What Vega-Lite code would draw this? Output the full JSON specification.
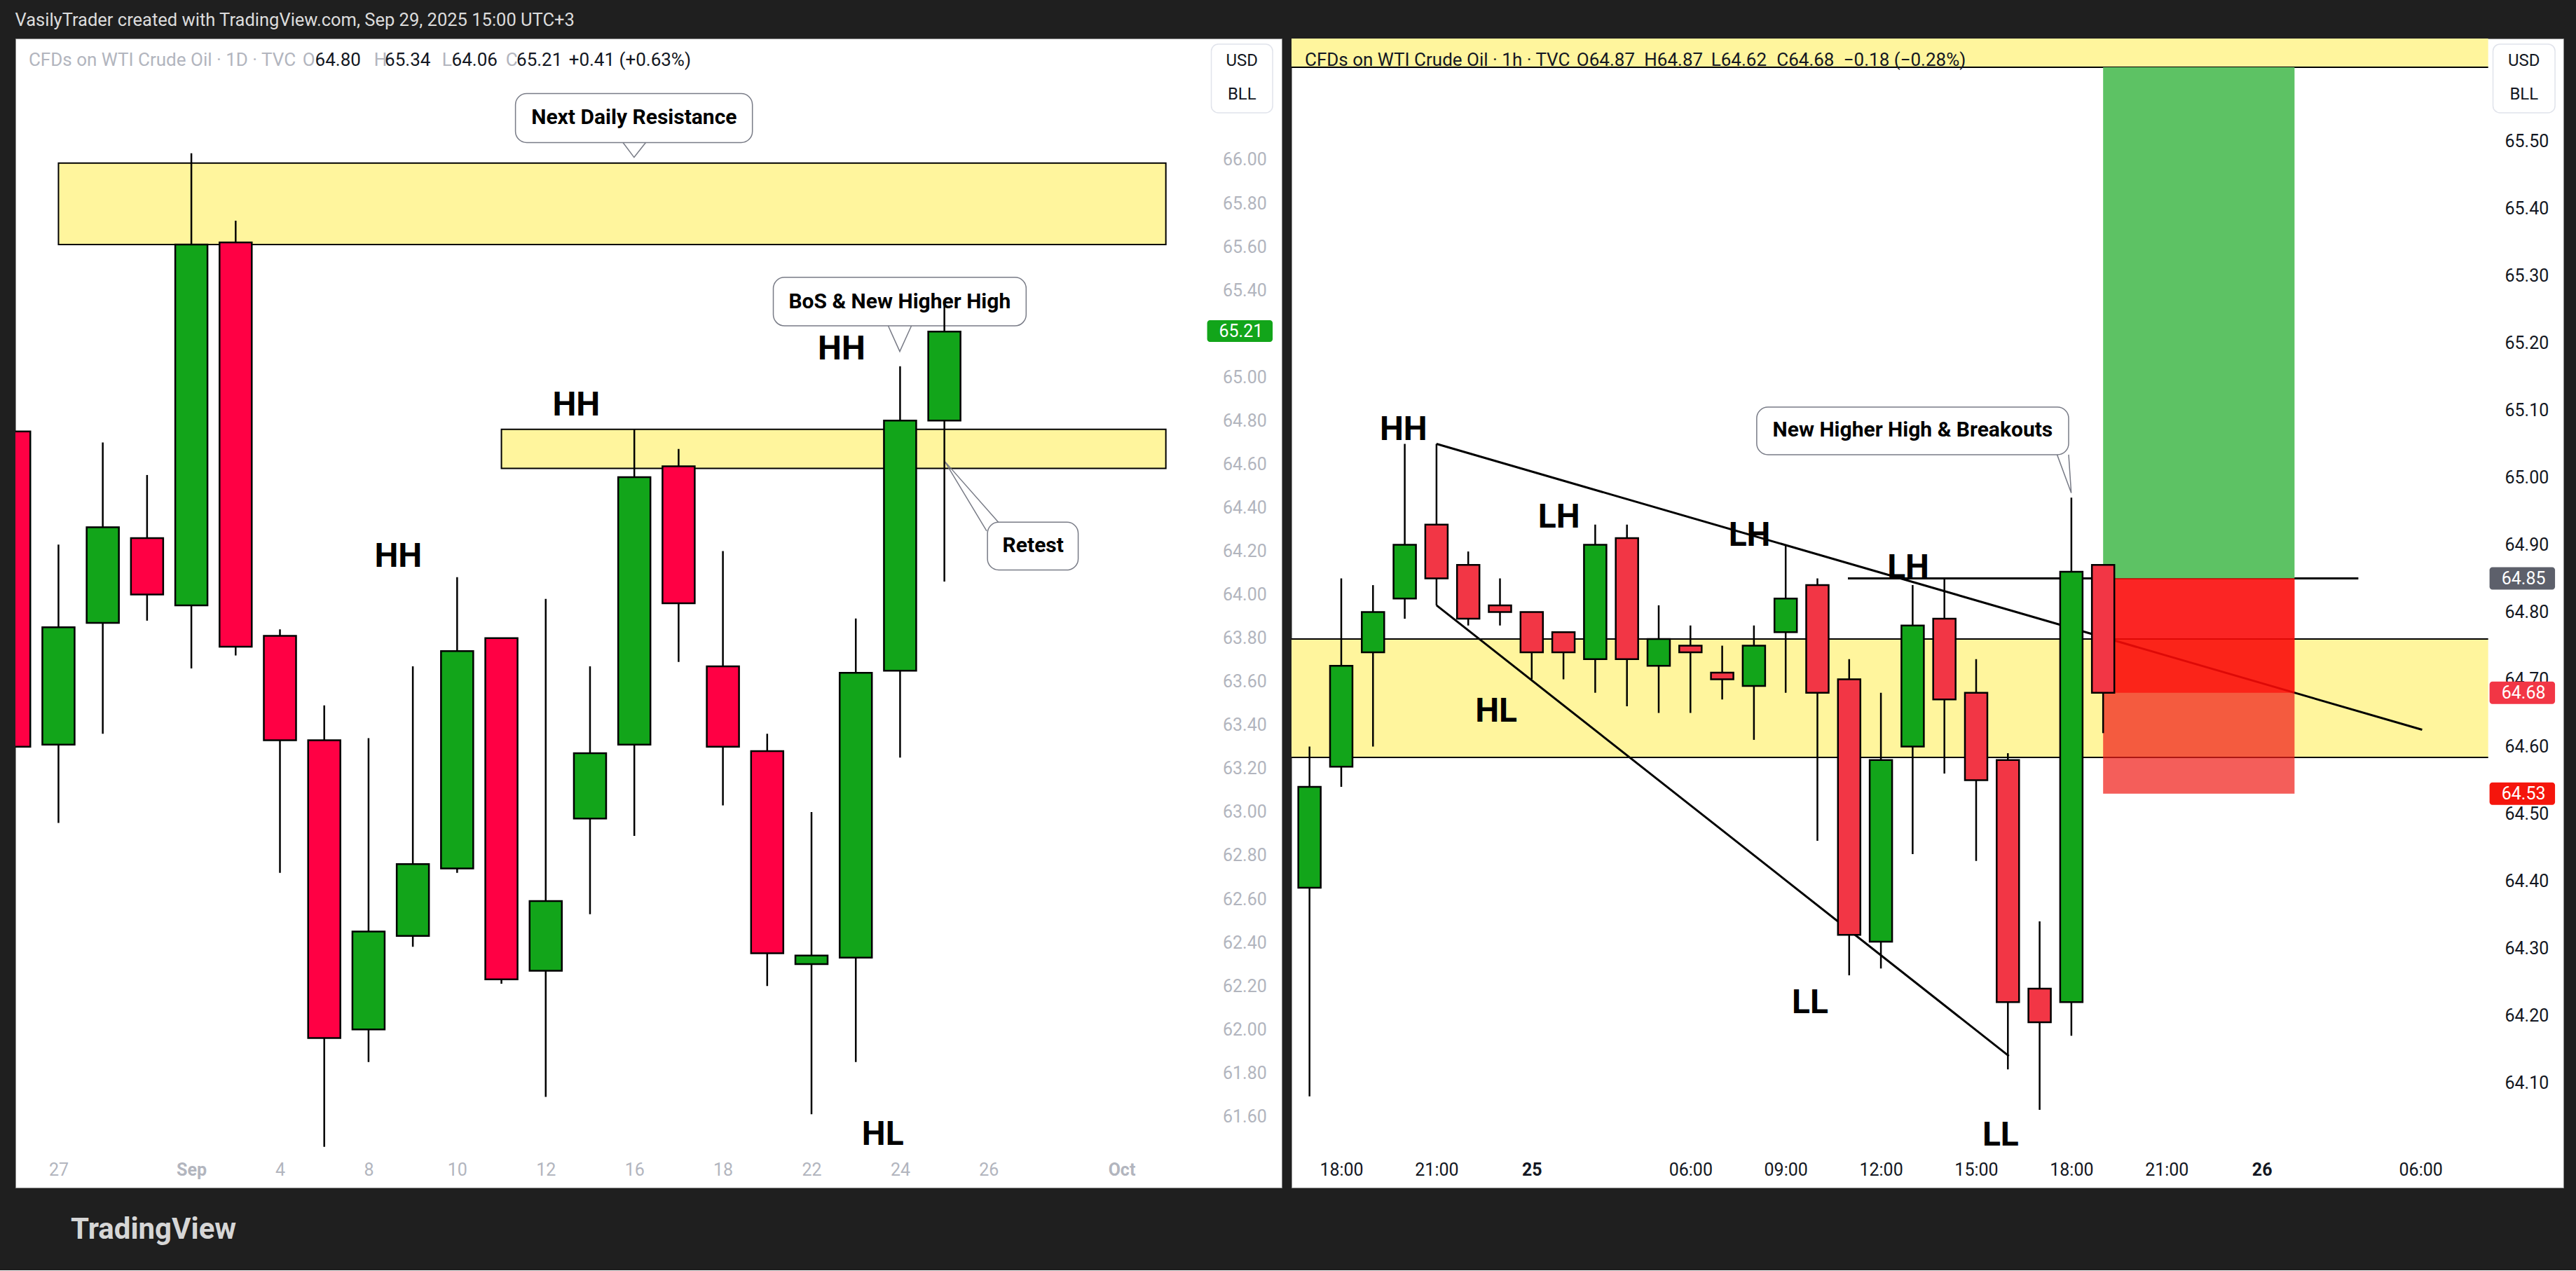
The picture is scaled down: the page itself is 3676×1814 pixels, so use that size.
{
  "$schema": "https://vega.github.io/schema/vega-lite/v6.json",
  "background": "#1f1f1f",
  "padding": {"left": 21, "right": 21, "top": 16, "bottom": 36},
  "spacing": 12,
  "title": {"text": "VasilyTrader created with TradingView.com, Sep 29, 2025 15:00 UTC+3", "anchor": "start", "color": "#dcdcdc", "fontSize": 25.5, "fontWeight": "normal", "font": "Roboto", "offset": 12.5},
  "config": {"font": "Roboto", "view": {"fill": "white", "stroke": "#8a8a8a", "strokeWidth": 1}},
  "datasets": {
    "candlesL": [
      {"x": 0, "o": 64.75, "h": 64.75, "l": 63.30, "c": 63.30},
      {"x": 1, "o": 63.31, "h": 64.23, "l": 62.95, "c": 63.85},
      {"x": 2, "o": 63.87, "h": 64.70, "l": 63.36, "c": 64.31},
      {"x": 3, "o": 64.26, "h": 64.55, "l": 63.88, "c": 64.00},
      {"x": 4, "o": 63.95, "h": 66.03, "l": 63.66, "c": 65.61},
      {"x": 5, "o": 65.62, "h": 65.72, "l": 63.72, "c": 63.76},
      {"x": 6, "o": 63.81, "h": 63.84, "l": 62.72, "c": 63.33},
      {"x": 7, "o": 63.33, "h": 63.49, "l": 61.46, "c": 61.96},
      {"x": 8, "o": 62.00, "h": 63.34, "l": 61.85, "c": 62.45},
      {"x": 9, "o": 62.43, "h": 63.67, "l": 62.38, "c": 62.76},
      {"x": 10, "o": 62.74, "h": 64.08, "l": 62.72, "c": 63.74},
      {"x": 11, "o": 63.80, "h": 63.80, "l": 62.21, "c": 62.23},
      {"x": 12, "o": 62.27, "h": 63.98, "l": 61.69, "c": 62.59},
      {"x": 13, "o": 62.97, "h": 63.67, "l": 62.53, "c": 63.27},
      {"x": 14, "o": 63.31, "h": 64.76, "l": 62.89, "c": 64.54},
      {"x": 15, "o": 64.59, "h": 64.67, "l": 63.69, "c": 63.96},
      {"x": 16, "o": 63.67, "h": 64.20, "l": 63.03, "c": 63.30},
      {"x": 17, "o": 63.28, "h": 63.36, "l": 62.20, "c": 62.35},
      {"x": 18, "o": 62.30, "h": 63.00, "l": 61.61, "c": 62.34},
      {"x": 19, "o": 62.33, "h": 63.89, "l": 61.85, "c": 63.64},
      {"x": 20, "o": 63.65, "h": 65.05, "l": 63.25, "c": 64.80},
      {"x": 21, "o": 64.80, "h": 65.34, "l": 64.06, "c": 65.21}
    ],
    "candlesR": [
      {"x": 0, "o": 64.39, "h": 64.60, "l": 64.08, "c": 64.54},
      {"x": 1, "o": 64.57, "h": 64.85, "l": 64.54, "c": 64.72},
      {"x": 2, "o": 64.74, "h": 64.84, "l": 64.60, "c": 64.80},
      {"x": 3, "o": 64.82, "h": 65.05, "l": 64.79, "c": 64.90},
      {"x": 4, "o": 64.93, "h": 65.05, "l": 64.81, "c": 64.85},
      {"x": 5, "o": 64.87, "h": 64.89, "l": 64.78, "c": 64.79},
      {"x": 6, "o": 64.81, "h": 64.85, "l": 64.78, "c": 64.80},
      {"x": 7, "o": 64.80, "h": 64.80, "l": 64.70, "c": 64.74},
      {"x": 8, "o": 64.77, "h": 64.77, "l": 64.70, "c": 64.74},
      {"x": 9, "o": 64.73, "h": 64.93, "l": 64.68, "c": 64.90},
      {"x": 10, "o": 64.91, "h": 64.93, "l": 64.66, "c": 64.73},
      {"x": 11, "o": 64.72, "h": 64.81, "l": 64.65, "c": 64.76},
      {"x": 12, "o": 64.75, "h": 64.78, "l": 64.65, "c": 64.74},
      {"x": 13, "o": 64.71, "h": 64.75, "l": 64.67, "c": 64.70},
      {"x": 14, "o": 64.69, "h": 64.78, "l": 64.61, "c": 64.75},
      {"x": 15, "o": 64.77, "h": 64.90, "l": 64.68, "c": 64.82},
      {"x": 16, "o": 64.84, "h": 64.85, "l": 64.46, "c": 64.68},
      {"x": 17, "o": 64.70, "h": 64.73, "l": 64.26, "c": 64.32},
      {"x": 18, "o": 64.31, "h": 64.68, "l": 64.27, "c": 64.58},
      {"x": 19, "o": 64.60, "h": 64.84, "l": 64.44, "c": 64.78},
      {"x": 20, "o": 64.79, "h": 64.85, "l": 64.56, "c": 64.67},
      {"x": 21, "o": 64.68, "h": 64.73, "l": 64.43, "c": 64.55},
      {"x": 22, "o": 64.58, "h": 64.59, "l": 64.12, "c": 64.22},
      {"x": 23, "o": 64.24, "h": 64.34, "l": 64.06, "c": 64.19},
      {"x": 24, "o": 64.22, "h": 64.97, "l": 64.17, "c": 64.86},
      {"x": 25, "o": 64.87, "h": 64.87, "l": 64.62, "c": 64.68}
    ]
  },
  "hconcat": [
    {
      "width": 1807,
      "height": 1640,
      "title": {"text": "TradingView", "orient": "bottom", "anchor": "start", "fontSize": 42, "fontWeight": "bold", "color": "#d6d6d6", "offset": 40, "dx": 79},
      "layer": [
        {
          "data": {"values": [{"x1": 1, "x2": 26, "lo": 65.61, "hi": 65.985}, {"x1": 11, "x2": 26, "lo": 64.58, "hi": 64.76}]},
          "mark": {"type": "rect", "fill": "#fff59d", "stroke": "#000000", "strokeWidth": 2},
          "encoding": {
            "x": {"field": "x1", "type": "quantitative", "title": null, "scale": {"domain": [0.107, 28.536], "zero": false, "nice": false},
              "axis": {"orient": "bottom", "offset": -26, "values": [1, 4, 6, 8, 10, 12, 14, 16, 18, 20, 22, 25],
                "labelExpr": "['','27','','','Sep','','4','','8','','10','','12','','16','','18','','22','','24','','26','','','Oct'][datum.value]",
                "title": null, "domain": false, "ticks": false, "tickSize": 0, "grid": false, "labelPadding": 0, "labelBaseline": "middle", "labelAlign": "center",
                "labelFontSize": 25, "labelColor": "#b2b5be", "labelOverlap": false, "labelBound": false, "labelFlush": false,
                "labelFontWeight": {"condition": {"test": "datum.value == 4 || datum.value == 25", "value": "bold"}, "value": "normal"}}},
            "x2": {"field": "x2"},
            "y": {"field": "lo", "type": "quantitative", "title": null, "scale": {"domain": [61.2723, 66.5575], "zero": false, "nice": false},
              "axis": {"orient": "right", "offset": -84.5, "values": [61.6, 61.8, 62, 62.2, 62.4, 62.6, 62.8, 63, 63.2, 63.4, 63.6, 63.8, 64, 64.2, 64.4, 64.6, 64.8, 65, 65.2, 65.4, 65.6, 65.8, 66],
                "format": ".2f", "title": null, "domain": false, "ticks": false, "tickSize": 0, "grid": false, "labelPadding": 0, "labelAlign": "left", "labelBaseline": "middle",
                "labelFontSize": 25, "labelColor": "#b2b5be", "labelOverlap": false, "labelBound": false, "labelFlush": false}},
            "y2": {"field": "hi"}
          }
        },
        {
          "data": {"values": [
            {"x1": 11.317, "x2": 16.666, "lo": 66.079, "hi": 66.3045},
            {"x1": 17.138, "x2": 22.846, "lo": 65.236, "hi": 65.459},
            {"x1": 21.973, "x2": 24.021, "lo": 64.113, "hi": 64.333}
          ]},
          "mark": {"type": "rect", "fill": "white", "stroke": "#787b86", "strokeWidth": 1.5, "cornerRadius": 16},
          "encoding": {
            "x": {"field": "x1", "type": "quantitative", "title": null},
            "x2": {"field": "x2"},
            "y": {"field": "lo", "type": "quantitative", "title": null},
            "y2": {"field": "hi"}
          }
        },
        {
          "data": {"values": [
            {"g": "a", "k": 0, "x": 13.745, "y": 66.079}, {"g": "a", "k": 1, "x": 13.995, "y": 66.011}, {"g": "a", "k": 2, "x": 14.257, "y": 66.079},
            {"g": "b", "k": 0, "x": 19.732, "y": 65.236}, {"g": "b", "k": 1, "x": 19.993, "y": 65.118}, {"g": "b", "k": 2, "x": 20.256, "y": 65.236},
            {"g": "c", "k": 0, "x": 22.218, "y": 64.333}, {"g": "c", "k": 1, "x": 21.007, "y": 64.613}, {"g": "c", "k": 2, "x": 21.955, "y": 64.292}
          ]},
          "mark": {"type": "line", "color": "#787b86", "strokeWidth": 1.5},
          "encoding": {
            "x": {"field": "x", "type": "quantitative", "title": null},
            "y": {"field": "y", "type": "quantitative", "title": null},
            "detail": {"field": "g"},
            "order": {"field": "k", "type": "quantitative"}
          }
        },
        {
          "data": {"values": [
            {"x": 13.995, "y": 66.193, "t": "Next Daily Resistance"},
            {"x": 19.99, "y": 65.347, "t": "BoS & New Higher High"},
            {"x": 23.003, "y": 64.225, "t": "Retest"}
          ]},
          "mark": {"type": "text", "fontSize": 30, "fontWeight": "bold", "color": "#000000", "align": "center", "baseline": "middle"},
          "encoding": {
            "x": {"field": "x", "type": "quantitative", "title": null},
            "y": {"field": "y", "type": "quantitative", "title": null},
            "text": {"field": "t"}
          }
        },
        {
          "data": {"values": [
            {"x": 8.67, "y": 64.173, "t": "HH"},
            {"x": 12.69, "y": 64.869, "t": "HH"},
            {"x": 18.68, "y": 65.127, "t": "HH"},
            {"x": 19.61, "y": 61.514, "t": "HL"}
          ]},
          "mark": {"type": "text", "fontSize": 48, "fontWeight": "bold", "color": "#000000", "align": "center", "baseline": "middle"},
          "encoding": {
            "x": {"field": "x", "type": "quantitative", "title": null},
            "y": {"field": "y", "type": "quantitative", "title": null},
            "text": {"field": "t"}
          }
        },
        {
          "data": {"name": "candlesL"},
          "mark": {"type": "rule", "color": "#000000", "strokeWidth": 2.5, "clip": true},
          "encoding": {
            "x": {"field": "x", "type": "quantitative", "title": null},
            "y": {"field": "l", "type": "quantitative", "title": null},
            "y2": {"field": "h"}
          }
        },
        {
          "data": {"name": "candlesL"},
          "mark": {"type": "bar", "size": 46, "stroke": "#000000", "strokeWidth": 2.5, "clip": true},
          "encoding": {
            "x": {"field": "x", "type": "quantitative", "title": null},
            "y": {"field": "o", "type": "quantitative", "title": null},
            "y2": {"field": "c"},
            "color": {"condition": {"test": "datum.c >= datum.o", "value": "#12a51a"}, "value": "#ff0044"}
          }
        },
        {
          "data": {"values": [
            {"x": 0.327, "y": 66.4576, "t": "CFDs on WTI Crude Oil · 1D · TVC", "k": "lab"},
            {"x": 6.51, "y": 66.4576, "t": "O", "k": "lab"},
            {"x": 6.793, "y": 66.4576, "t": "64.80", "k": "val"},
            {"x": 8.123, "y": 66.4576, "t": "H", "k": "lab"},
            {"x": 8.367, "y": 66.4576, "t": "65.34", "k": "val"},
            {"x": 9.657, "y": 66.4576, "t": "L", "k": "lab"},
            {"x": 9.877, "y": 66.4576, "t": "64.06", "k": "val"},
            {"x": 11.097, "y": 66.4576, "t": "C", "k": "lab"},
            {"x": 11.34, "y": 66.4576, "t": "65.21", "k": "val"},
            {"x": 12.52, "y": 66.4576, "t": "+0.41 (+0.63%)", "k": "val"}
          ]},
          "mark": {"type": "text", "fontSize": 26, "align": "left", "baseline": "middle"},
          "encoding": {
            "x": {"field": "x", "type": "quantitative", "title": null},
            "y": {"field": "y", "type": "quantitative", "title": null},
            "text": {"field": "t"},
            "color": {"condition": {"test": "datum.k == 'lab'", "value": "#b2b5be"}, "value": "#131722"}
          }
        },
        {
          "data": {"values": [{"x1": 27.026, "x2": 28.411, "lo": 66.2159, "hi": 66.5317}]},
          "mark": {"type": "rect", "fill": "white", "stroke": "#e0e3eb", "strokeWidth": 1.5, "cornerRadius": 10},
          "encoding": {
            "x": {"field": "x1", "type": "quantitative", "title": null},
            "x2": {"field": "x2"},
            "y": {"field": "lo", "type": "quantitative", "title": null},
            "y2": {"field": "hi"}
          }
        },
        {
          "data": {"values": [{"x": 27.718, "y": 66.4544, "t": "USD"}, {"x": 27.718, "y": 66.2997, "t": "BLL"}]},
          "mark": {"type": "text", "fontSize": 24, "color": "#131722", "align": "center", "baseline": "middle"},
          "encoding": {
            "x": {"field": "x", "type": "quantitative", "title": null},
            "y": {"field": "y", "type": "quantitative", "title": null},
            "text": {"field": "t"}
          }
        },
        {
          "data": {"values": [{"x1": 26.932, "x2": 28.411, "lo": 65.162, "hi": 65.262}]},
          "mark": {"type": "rect", "fill": "#12a51a", "cornerRadius": 4},
          "encoding": {
            "x": {"field": "x1", "type": "quantitative", "title": null},
            "x2": {"field": "x2"},
            "y": {"field": "lo", "type": "quantitative", "title": null},
            "y2": {"field": "hi"}
          }
        },
        {
          "data": {"values": [{"x": 27.199, "y": 65.21, "t": "65.21"}]},
          "mark": {"type": "text", "fontSize": 25, "color": "white", "align": "left", "baseline": "middle"},
          "encoding": {
            "x": {"field": "x", "type": "quantitative", "title": null},
            "y": {"field": "y", "type": "quantitative", "title": null},
            "text": {"field": "t"}
          }
        }
      ]
    },
    {
      "width": 1815,
      "height": 1640,
      "layer": [
        {
          "data": {"values": [{"x1": -1, "x2": 37.13, "lo": 64.584, "hi": 64.76}, {"x1": -1, "x2": 37.13, "lo": 65.61, "hi": 66.0}]},
          "mark": {"type": "rect", "fill": "#fff59d", "clip": true},
          "encoding": {
            "x": {"field": "x1", "type": "quantitative", "title": null, "scale": {"domain": [-0.457, 39.389], "zero": false, "nice": false},
              "axis": {"orient": "bottom", "offset": -26, "values": [1, 4, 7, 12, 15, 18, 21, 24, 27, 30, 35],
                "labelExpr": "['','18:00','','','21:00','','','25','','','','','06:00','','','09:00','','','12:00','','','15:00','','','18:00','','','21:00','','','26','','','','','06:00'][datum.value]",
                "title": null, "domain": false, "ticks": false, "tickSize": 0, "grid": false, "labelPadding": 0, "labelBaseline": "middle", "labelAlign": "center",
                "labelFontSize": 25, "labelColor": "#131722", "labelOverlap": false, "labelBound": false, "labelFlush": false,
                "labelFontWeight": {"condition": {"test": "datum.value == 7 || datum.value == 30", "value": "bold"}, "value": "normal"}}},
            "x2": {"field": "x2"},
            "y": {"field": "lo", "type": "quantitative", "title": null, "scale": {"domain": [63.9443, 65.6526], "zero": false, "nice": false},
              "axis": {"orient": "right", "offset": -84, "values": [64.1, 64.2, 64.3, 64.4, 64.5, 64.6, 64.7, 64.8, 64.9, 65.0, 65.1, 65.2, 65.3, 65.4, 65.5],
                "format": ".2f", "title": null, "domain": false, "ticks": false, "tickSize": 0, "grid": false, "labelPadding": 0, "labelAlign": "left", "labelBaseline": "middle",
                "labelFontSize": 25, "labelColor": "#131722", "labelOverlap": false, "labelBound": false, "labelFlush": false}},
            "y2": {"field": "hi"}
          }
        },
        {
          "data": {"values": [{"x1": -1, "x2": 37.13, "y": 64.584}, {"x1": -1, "x2": 37.13, "y": 64.76}, {"x1": -1, "x2": 37.13, "y": 65.61}]},
          "mark": {"type": "rule", "color": "#000000", "strokeWidth": 2, "clip": true},
          "encoding": {
            "x": {"field": "x1", "type": "quantitative", "title": null},
            "x2": {"field": "x2"},
            "y": {"field": "y", "type": "quantitative", "title": null}
          }
        },
        {
          "data": {"values": [
            {"g": "u", "k": 0, "x": 4.0, "y": 65.05}, {"g": "u", "k": 1, "x": 35.05, "y": 64.625},
            {"g": "d", "k": 0, "x": 4.0, "y": 64.81}, {"g": "d", "k": 1, "x": 22.03, "y": 64.14},
            {"g": "h", "k": 0, "x": 16.96, "y": 64.85}, {"g": "h", "k": 1, "x": 33.04, "y": 64.85}
          ]},
          "mark": {"type": "line", "color": "#000000", "strokeWidth": 3},
          "encoding": {
            "x": {"field": "x", "type": "quantitative", "title": null},
            "y": {"field": "y", "type": "quantitative", "title": null},
            "detail": {"field": "g"},
            "order": {"field": "k", "type": "quantitative"}
          }
        },
        {
          "data": {"values": [
            {"x1": 25, "x2": 31.03, "lo": 64.85, "hi": 65.61, "k": "target"},
            {"x1": 25, "x2": 31.03, "lo": 64.53, "hi": 64.85, "k": "stop"},
            {"x1": 25, "x2": 31.03, "lo": 64.68, "hi": 64.85, "k": "loss"}
          ]},
          "mark": {"type": "rect"},
          "encoding": {
            "x": {"field": "x1", "type": "quantitative", "title": null},
            "x2": {"field": "x2"},
            "y": {"field": "lo", "type": "quantitative", "title": null},
            "y2": {"field": "hi"},
            "color": {"condition": [{"test": "datum.k == 'target'", "value": "#5dc264"}, {"test": "datum.k == 'stop'", "value": "#f0201a"}], "value": "#ff0000"},
            "opacity": {"condition": [{"test": "datum.k == 'target'", "value": 1}, {"test": "datum.k == 'stop'", "value": 0.72}], "value": 0.6}
          }
        },
        {
          "data": {"name": "candlesR"},
          "mark": {"type": "rule", "color": "#000000", "strokeWidth": 2.5, "clip": true},
          "encoding": {
            "x": {"field": "x", "type": "quantitative", "title": null},
            "y": {"field": "l", "type": "quantitative", "title": null},
            "y2": {"field": "h"}
          }
        },
        {
          "data": {"name": "candlesR"},
          "mark": {"type": "bar", "size": 32, "stroke": "#000000", "strokeWidth": 2.5, "clip": true},
          "encoding": {
            "x": {"field": "x", "type": "quantitative", "title": null},
            "y": {"field": "o", "type": "quantitative", "title": null},
            "y2": {"field": "c"},
            "color": {"condition": {"test": "datum.c >= datum.o", "value": "#12a51a"}, "value": "#f23645"}
          }
        },
        {
          "data": {"values": [{"x1": 14.088, "x2": 23.914, "lo": 65.0339, "hi": 65.1047}]},
          "mark": {"type": "rect", "fill": "white", "stroke": "#787b86", "strokeWidth": 1.5, "cornerRadius": 16},
          "encoding": {
            "x": {"field": "x1", "type": "quantitative", "title": null},
            "x2": {"field": "x2"},
            "y": {"field": "lo", "type": "quantitative", "title": null},
            "y2": {"field": "hi"}
          }
        },
        {
          "data": {"values": [
            {"g": "a", "k": 0, "x": 23.55, "y": 65.034}, {"g": "a", "k": 1, "x": 23.996, "y": 64.977}, {"g": "a", "k": 2, "x": 23.914, "y": 65.034}
          ]},
          "mark": {"type": "line", "color": "#787b86", "strokeWidth": 1.5},
          "encoding": {
            "x": {"field": "x", "type": "quantitative", "title": null},
            "y": {"field": "y", "type": "quantitative", "title": null},
            "detail": {"field": "g"},
            "order": {"field": "k", "type": "quantitative"}
          }
        },
        {
          "data": {"values": [{"x": 19.0, "y": 65.07, "t": "New Higher High & Breakouts"}]},
          "mark": {"type": "text", "fontSize": 30, "fontWeight": "bold", "color": "#000000", "align": "center", "baseline": "middle"},
          "encoding": {
            "x": {"field": "x", "type": "quantitative", "title": null},
            "y": {"field": "y", "type": "quantitative", "title": null},
            "text": {"field": "t"}
          }
        },
        {
          "data": {"values": [
            {"x": 2.96, "y": 65.07, "t": "HH"},
            {"x": 7.86, "y": 64.94, "t": "LH"},
            {"x": 5.88, "y": 64.652, "t": "HL"},
            {"x": 13.86, "y": 64.913, "t": "LH"},
            {"x": 18.86, "y": 64.865, "t": "LH"},
            {"x": 15.77, "y": 64.218, "t": "LL"},
            {"x": 21.77, "y": 64.021, "t": "LL"}
          ]},
          "mark": {"type": "text", "fontSize": 48, "fontWeight": "bold", "color": "#000000", "align": "center", "baseline": "middle"},
          "encoding": {
            "x": {"field": "x", "type": "quantitative", "title": null},
            "y": {"field": "y", "type": "quantitative", "title": null},
            "text": {"field": "t"}
          }
        },
        {
          "data": {"values": [
            {"x": -0.149, "y": 65.62, "t": "CFDs on WTI Crude Oil · 1h · TVC"},
            {"x": 8.413, "y": 65.62, "t": "O64.87"},
            {"x": 10.543, "y": 65.62, "t": "H64.87"},
            {"x": 12.65, "y": 65.62, "t": "L64.62"},
            {"x": 14.714, "y": 65.62, "t": "C64.68"},
            {"x": 16.822, "y": 65.62, "t": "−0.18 (−0.28%)"}
          ]},
          "mark": {"type": "text", "fontSize": 26, "color": "#131722", "align": "left", "baseline": "middle"},
          "encoding": {
            "x": {"field": "x", "type": "quantitative", "title": null},
            "y": {"field": "y", "type": "quantitative", "title": null},
            "text": {"field": "t"}
          }
        },
        {
          "data": {"values": [{"x1": 37.282, "x2": 39.236, "lo": 65.5422, "hi": 65.6443}]},
          "mark": {"type": "rect", "fill": "white", "stroke": "#e0e3eb", "strokeWidth": 1.5, "cornerRadius": 10},
          "encoding": {
            "x": {"field": "x1", "type": "quantitative", "title": null},
            "x2": {"field": "x2"},
            "y": {"field": "lo", "type": "quantitative", "title": null},
            "y2": {"field": "hi"}
          }
        },
        {
          "data": {"values": [{"x": 38.259, "y": 65.6193, "t": "USD"}, {"x": 38.259, "y": 65.5693, "t": "BLL"}]},
          "mark": {"type": "text", "fontSize": 24, "color": "#131722", "align": "center", "baseline": "middle"},
          "encoding": {
            "x": {"field": "x", "type": "quantitative", "title": null},
            "y": {"field": "y", "type": "quantitative", "title": null},
            "text": {"field": "t"}
          }
        },
        {
          "data": {"values": [
            {"x1": 37.173, "x2": 39.236, "lo": 64.8333, "hi": 64.8667, "k": "entry"},
            {"x1": 37.173, "x2": 39.236, "lo": 64.6633, "hi": 64.6967, "k": "close"},
            {"x1": 37.173, "x2": 39.236, "lo": 64.5133, "hi": 64.5467, "k": "stop"}
          ]},
          "mark": {"type": "rect", "cornerRadius": 4},
          "encoding": {
            "x": {"field": "x1", "type": "quantitative", "title": null},
            "x2": {"field": "x2"},
            "y": {"field": "lo", "type": "quantitative", "title": null},
            "y2": {"field": "hi"},
            "color": {"condition": [{"test": "datum.k == 'entry'", "value": "#5d606b"}, {"test": "datum.k == 'close'", "value": "#f23645"}], "value": "#f5150c"}
          }
        },
        {
          "data": {"values": [{"x": 37.55, "y": 64.85, "t": "64.85"}, {"x": 37.55, "y": 64.68, "t": "64.68"}, {"x": 37.55, "y": 64.53, "t": "64.53"}]},
          "mark": {"type": "text", "fontSize": 25, "color": "white", "align": "left", "baseline": "middle"},
          "encoding": {
            "x": {"field": "x", "type": "quantitative", "title": null},
            "y": {"field": "y", "type": "quantitative", "title": null},
            "text": {"field": "t"}
          }
        }
      ]
    }
  ]
}
